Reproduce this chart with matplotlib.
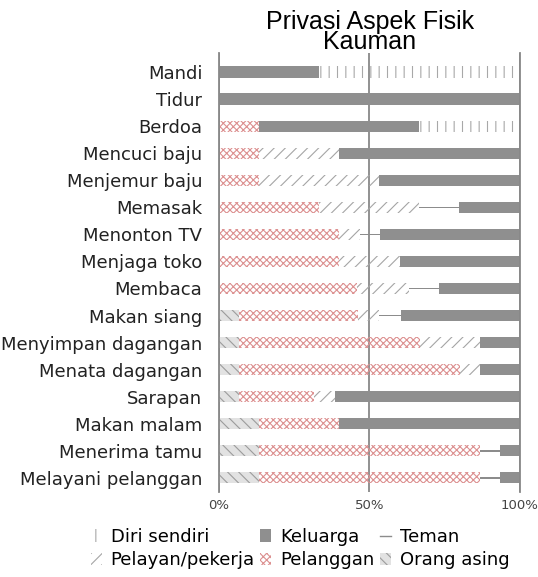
import numpy as np
import matplotlib
matplotlib.use('Agg')
import matplotlib.pyplot as plt
from matplotlib.lines import Line2D

categories = ["Mandi", "Tidur", "Berdoa", "Mencuci baju", "Menjemur baju",
              "Memasak", "Menonton TV", "Menjaga toko", "Membaca", "Makan siang",
              "Menyimpan dagangan", "Menata dagangan", "Sarapan", "Makan malam",
              "Menerima tamu", "Melayani pelanggan"]

# percentages, stacked left to right
orang_asing  = [0, 0, 0, 0, 0, 0, 0, 0, 0, 6.7, 6.7, 6.7, 6.7, 13.3, 13.3, 13.3]
pelanggan    = [0, 0, 13.3, 13.3, 13.3, 33.3, 40, 40, 46, 39.6, 60, 73.3, 25, 26.7, 73.3, 73.3]
pelayan      = [0, 0, 0, 26.7, 40, 33.3, 6.7, 20, 17, 6.7, 20, 6.7, 7, 0, 0, 0]
teman        = [0, 0, 0, 0, 0, 13.3, 6.7, 0, 10, 7.4, 0, 0, 0, 0, 6.7, 6.7]
keluarga     = [33.3, 100, 53.3, 60, 46.7, 20, 46.7, 40, 27, 39.6, 13.3, 13.3, 61.3, 60, 6.7, 6.7]
diri_sendiri = [66.7, 0, 33.3, 0, 0, 0, 0, 0, 0, 0, 0, 0, 0, 0, 0, 0]

plt.rcParams['hatch.linewidth'] = 0.8

fig = plt.figure(figsize=(5.38, 5.77), dpi=100)
ax = fig.add_axes([0.4071, 0.1473, 0.5594, 0.7608])

y = np.arange(len(categories))
bh = 0.41
series = [
    ("Orang asing", orang_asing, dict(facecolor='#e2e2e2', edgecolor='#9c9c9c', hatch='\\\\\\', height=bh)),
    ("Pelanggan", pelanggan, dict(facecolor='none', edgecolor='#dc9090', hatch='xxxxx', height=bh)),
    ("Pelayan/pekerja", pelayan, dict(facecolor='none', edgecolor='#a5a5a5', hatch='///', height=bh)),
    ("Teman", teman, dict(facecolor='#8c8c8c', edgecolor='none', height=0.05)),
    ("Keluarga", keluarga, dict(facecolor='#8f8f8f', edgecolor='none', height=bh)),
    ("Diri sendiri", diri_sendiri, dict(facecolor='none', edgecolor='#a8a8a8', hatch='||', height=bh)),
]

left = np.zeros(len(categories))
handles = {}
for name, vals, style in series:
    vals = np.array(vals, dtype=float)
    h = ax.barh(y, vals, left=left, linewidth=0, **style)
    handles[name] = h
    left += vals
handles["Teman"] = Line2D([], [], color='#8c8c8c', lw=1)

ax.set_xlim(0, 100)
ax.set_ylim(15.52, -0.70)
ax.set_yticks(y)
ax.set_yticklabels(categories, fontsize=13, color='#222222')
ax.set_xticks([0, 50, 100])
ax.set_xticklabels(["0%", "50%", "100%"], fontsize=9.5, color='#444444')
ax.tick_params(axis='y', length=0, pad=12)
ax.tick_params(axis='x', length=0, pad=5)
ax.xaxis.grid(True, color='#888888', lw=1.3)
ax.set_axisbelow(True)
for s in ['top', 'bottom']:
    ax.spines[s].set_visible(False)
for s in ['left', 'right']:
    ax.spines[s].set_color('#888888')
    ax.spines[s].set_linewidth(1.3)

fig.text(0.687, 0.983, "Privasi Aspek Fisik\nKauman", ha='center', va='top',
         fontsize=18, family='Liberation Sans', linespacing=0.8)

order = ["Diri sendiri", "Pelayan/pekerja", "Keluarga", "Pelanggan", "Teman", "Orang asing"]
fig.legend([handles[k] for k in order], order, loc='center',
           bbox_to_anchor=(0.5576, 0.0490), ncol=3, frameon=False, fontsize=13,
           handlelength=0.6, handleheight=0.7, handletextpad=0.5,
           columnspacing=0.3, labelspacing=0.3)

fig.savefig('out.png', dpi=100)
